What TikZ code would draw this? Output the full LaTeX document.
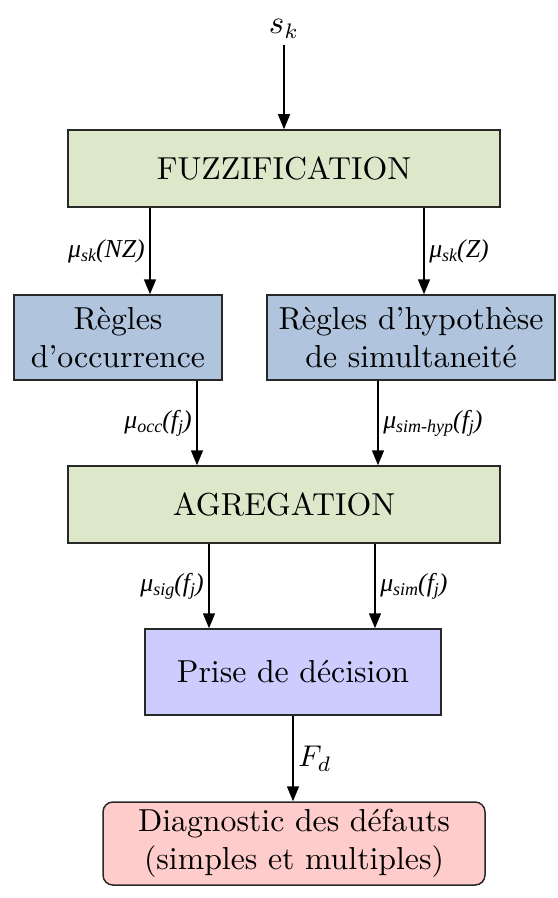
\documentclass[tikz,border=0pt]{standalone}
\usepackage{fontspec}
\newfontfamily\labfont{Liberation Serif}
\usetikzlibrary{arrows.meta}
\definecolor{boxgreen}{RGB}{221,232,203}
\definecolor{boxblue}{RGB}{176,196,222}
\definecolor{boxlav}{RGB}{204,204,255}
\definecolor{boxpink}{RGB}{255,204,204}
\definecolor{edge}{RGB}{40,40,40}
\newcommand\lsub[1]{\raisebox{-0.35ex}{\fontsize{6}{6}\selectfont #1}}
\begin{document}
\begin{tikzpicture}[x=0.33333pt,y=-0.33333pt,
  every node/.style={font=\fontsize{10.6}{12.6}\selectfont},
  blockbox/.style={draw=edge,line width=0.5pt,align=center,inner sep=0pt},
  arr/.style={line width=0.5pt,-{Triangle[length=5pt,width=4pt]}},
  lab/.style={font=\labfont\itshape\fontsize{8.6}{10}\selectfont,inner sep=1.5pt}]
\useasboundingbox (0,0) rectangle (558,898);
\node[inner sep=2pt,anchor=south] (sk) at (284,45) {$s_k$};
\node[blockbox,fill=boxgreen,minimum width=144pt,minimum height=25.67pt] (fuzz) at (284,168.5) {FUZZIFICATION};
\node[blockbox,fill=boxblue,minimum width=69.33pt,minimum height=28.33pt] (occ) at (118,337.5) {R\`egles\\d'occurrence};
\node[blockbox,fill=boxblue,minimum width=96pt,minimum height=28.33pt] (hyp) at (411,337.5) {R\`egles d'hypoth\`ese\\de simultaneit\'e};
\node[blockbox,fill=boxgreen,minimum width=144pt,minimum height=25.67pt] (agr) at (284,504.5) {AGREGATION};
\node[blockbox,fill=boxlav,minimum width=98.67pt,minimum height=28.67pt] (dec) at (293,672) {Prise de d\'ecision};
\node[blockbox,fill=boxpink,rounded corners=3.3pt,minimum width=127.33pt,minimum height=27.67pt] (diag) at (294,843.5) {Diagnostic des d\'efauts\\(simples et multiples)};
\draw[arr] (sk.south) -- (fuzz.north);
\draw[arr] (fuzz.south -| 150,0) -- node[lab,left,midway] {μ\lsub{sk}(NZ)} (occ.north -| 150,0);
\draw[arr] (fuzz.south -| 424,0) -- node[lab,right,midway] {μ\lsub{sk}(Z)} (hyp.north -| 424,0);
\draw[arr] (occ.south -| 197,0) -- node[lab,left,midway] {μ\lsub{occ}(f\lsub{j})} (agr.north -| 197,0);
\draw[arr] (hyp.south -| 378,0) -- node[lab,right,midway] {μ\lsub{sim-hyp}(f\lsub{j})} (agr.north -| 378,0);
\draw[arr] (agr.south -| 209,0) -- node[lab,left,midway] {μ\lsub{sig}(f\lsub{j})} (dec.north -| 209,0);
\draw[arr] (agr.south -| 375,0) -- node[lab,right,midway] {μ\lsub{sim}(f\lsub{j})} (dec.north -| 375,0);
\draw[arr] (dec.south) -- node[right,midway,inner sep=1.5pt,font=\fontsize{9.6}{11}\selectfont] {$F_d$} (dec.south |- diag.north);
\end{tikzpicture}
\end{document}
